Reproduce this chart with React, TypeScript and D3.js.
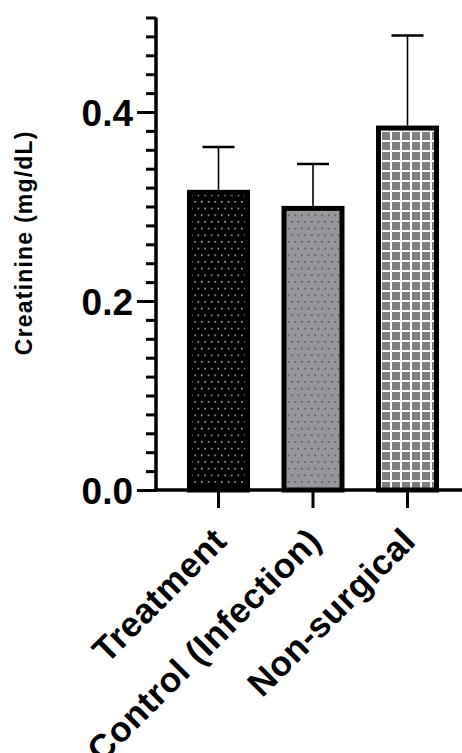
import React, { useEffect, useRef } from "react";
import * as d3 from "d3";

const categories = ["Treatment", "Control (Infection)", "Non-surgical"];
const means = [0.315, 0.298, 0.383];
const errors = [0.048, 0.047, 0.098];
const fills = ["url(#dotsDark)", "url(#dotsGrey)", "url(#grid)"];
const majorTicks = [0.0, 0.2, 0.4];

function App() {
  const ref = useRef<SVGSVGElement>(null);

  useEffect(() => {
    const width = 462;
    const svg = d3.select(ref.current);
    svg.selectAll("*").remove();

    const font = "'Liberation Sans', Arial, Helvetica, sans-serif";

    // patterns for the bar fills
    const defs = svg.append("defs");
    const p1 = defs
      .append("pattern")
      .attr("id", "dotsDark")
      .attr("patternUnits", "userSpaceOnUse")
      .attr("width", 6.67)
      .attr("height", 13.34);
    p1.append("rect").attr("width", 6.67).attr("height", 13.34).attr("fill", "#000");
    p1.append("rect").attr("x", 1).attr("y", 1).attr("width", 1.4).attr("height", 1.4).attr("fill", "#e6e6e6");
    p1.append("rect").attr("x", 4.3).attr("y", 7.7).attr("width", 1.4).attr("height", 1.4).attr("fill", "#e6e6e6");

    const p2 = defs
      .append("pattern")
      .attr("id", "dotsGrey")
      .attr("patternUnits", "userSpaceOnUse")
      .attr("width", 6.67)
      .attr("height", 13.34);
    p2.append("rect").attr("width", 6.67).attr("height", 13.34).attr("fill", "#98989c");
    p2.append("rect").attr("x", 1).attr("y", 1).attr("width", 1.4).attr("height", 1.4).attr("fill", "#3a3a3a");
    p2.append("rect").attr("x", 4.3).attr("y", 7.7).attr("width", 1.4).attr("height", 1.4).attr("fill", "#3a3a3a");

    const p3 = defs
      .append("pattern")
      .attr("id", "grid")
      .attr("patternUnits", "userSpaceOnUse")
      .attr("width", 10)
      .attr("height", 10);
    p3.append("rect").attr("width", 10).attr("height", 10).attr("fill", "#7f7f7f");
    p3.append("rect").attr("x", 0).attr("y", 0).attr("width", 2).attr("height", 10).attr("fill", "#fff");
    p3.append("rect").attr("x", 0).attr("y", 0).attr("width", 10).attr("height", 2).attr("fill", "#fff");

    const yScale = d3.scaleLinear().domain([0, 0.5]).range([490, 17.5]);
    const xScale = d3
      .scaleBand()
      .domain(categories)
      .range([171.25, 454.75])
      .paddingInner(0.386)
      .paddingOuter(0.193);

    const axisX = 156;
    const bw = xScale.bandwidth();

    // bars
    svg
      .append("g")
      .selectAll("rect")
      .data(categories)
      .join("rect")
      .attr("x", (d) => xScale(d)!)
      .attr("y", (d, i) => yScale(means[i]))
      .attr("width", bw)
      .attr("height", (d, i) => yScale(0) - yScale(means[i]))
      .attr("fill", (d, i) => fills[i])
      .attr("stroke", "#000")
      .attr("stroke-width", 5);

    // error bars (upper only)
    const eb = svg.append("g").attr("stroke", "#000");
    categories.forEach((c, i) => {
      const cx = xScale(c)! + bw / 2;
      eb.append("line")
        .attr("x1", cx)
        .attr("x2", cx)
        .attr("y1", yScale(means[i]) - 2.5)
        .attr("y2", yScale(means[i] + errors[i]))
        .attr("stroke-width", 1.6);
      eb.append("line")
        .attr("x1", cx - 16)
        .attr("x2", cx + 16)
        .attr("y1", yScale(means[i] + errors[i]))
        .attr("y2", yScale(means[i] + errors[i]))
        .attr("stroke-width", 2.5);
    });

    // y axis
    const minor = d3.range(0, 0.5001, 0.02);
    const yAxis = d3
      .axisLeft(yScale)
      .tickValues(minor)
      .tickSize(10)
      .tickFormat(() => "");
    svg
      .append("g")
      .attr("transform", `translate(${axisX},0)`)
      .call(yAxis)
      .call((g) => g.selectAll(".tick line").attr("stroke-width", 3))
      .call((g) => g.select(".domain").attr("stroke-width", 3.5).attr("d", `M0,${yScale(0.5)}V${yScale(0)}`));

    const yMajor = d3
      .axisLeft(yScale)
      .tickValues(majorTicks)
      .tickSize(19)
      .tickPadding(4)
      .tickFormat(d3.format(".1f"));
    svg
      .append("g")
      .attr("transform", `translate(${axisX},0)`)
      .call(yMajor)
      .call((g) => g.select(".domain").remove())
      .call((g) => g.selectAll(".tick line").attr("stroke-width", 3))
      .call((g) =>
        g
          .selectAll(".tick text")
          .attr("font-family", font)
          .attr("font-weight", "bold")
          .attr("font-size", 37)
          .attr("fill", "#000")
          .attr("dy", "0.36em")
      );

    // x axis
    svg
      .append("line")
      .attr("x1", axisX - 1.5)
      .attr("x2", width)
      .attr("y1", yScale(0))
      .attr("y2", yScale(0))
      .attr("stroke", "#000")
      .attr("stroke-width", 3.5);

    const xt = svg.append("g");
    categories.forEach((c) => {
      const cx = xScale(c)! + bw / 2;
      xt.append("line")
        .attr("x1", cx)
        .attr("x2", cx)
        .attr("y1", yScale(0))
        .attr("y2", yScale(0) + 18)
        .attr("stroke", "#000")
        .attr("stroke-width", 3);
      xt.append("text")
        .attr("transform", `translate(${cx + 10},${yScale(0) + 53}) rotate(-45)`)
        .attr("text-anchor", "end")
        .attr("font-family", font)
        .attr("font-weight", "bold")
        .attr("font-size", 35)
        .attr("letter-spacing", 0.5)
        .attr("fill", "#000")
        .text(c);
    });

    // y axis title
    svg
      .append("text")
      .attr("transform", `translate(32,${(yScale(0.5) + yScale(0)) / 2 - 11}) rotate(-90)`)
      .attr("text-anchor", "middle")
      .attr("font-family", font)
      .attr("font-weight", "bold")
      .attr("font-size", 23)
      .attr("letter-spacing", 1.2)
      .attr("fill", "#000")
      .text("Creatinine (mg/dL)");
  }, []);

  return (
    <svg
      ref={ref}
      width={462}
      height={753}
      style={{ position: "absolute", left: 0, top: 0, background: "#fff" }}
    />
  );
}

export default App;
